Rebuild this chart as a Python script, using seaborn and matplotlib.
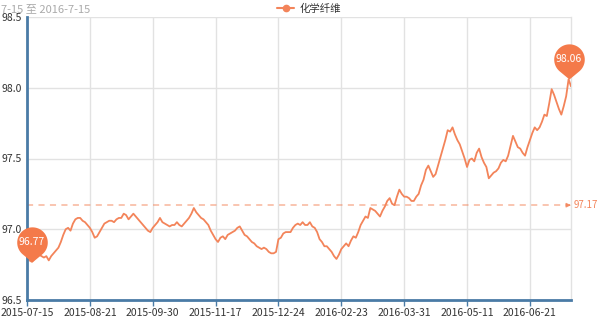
import numpy as np
import pandas as pd
import matplotlib
matplotlib.use("Agg")
import matplotlib.pyplot as plt
import seaborn as sns
from matplotlib.path import Path
from matplotlib.lines import Line2D

# ---------------- data ----------------
series_name = "化学纤维"
date_range_text = "7-15 至 2016-7-15"   # visible part of the (cut-off) date-range caption
tick_dates = ["2015-07-15", "2015-08-21", "2015-09-30", "2015-11-17", "2015-12-24",
              "2016-02-23", "2016-03-31", "2016-05-11", "2016-06-21"]
tick_step = 26  # trading days between labelled dates
values = [
    96.80, 96.78, 96.77, 96.79, 96.81, 96.82, 96.81, 96.80, 96.81, 96.78,
    96.81, 96.83, 96.85, 96.87, 96.91, 96.96, 97.00, 97.01, 96.99, 97.04,
    97.07, 97.08, 97.08, 97.06, 97.05, 97.03, 97.01, 96.98, 96.94, 96.95,
    96.98, 97.01, 97.04, 97.05, 97.06, 97.06, 97.05, 97.07, 97.08, 97.08,
    97.11, 97.10, 97.07, 97.09, 97.11, 97.09, 97.07, 97.05, 97.03, 97.01,
    96.99, 96.98, 97.01, 97.03, 97.05, 97.08, 97.05, 97.04, 97.03, 97.02,
    97.03, 97.03, 97.05, 97.03, 97.02, 97.04, 97.06, 97.08, 97.11, 97.15,
    97.12, 97.10, 97.08, 97.07, 97.05, 97.03, 96.99, 96.96, 96.93, 96.91,
    96.94, 96.95, 96.93, 96.96, 96.97, 96.98, 96.99, 97.01, 97.02, 96.99,
    96.96, 96.95, 96.93, 96.91, 96.90, 96.88, 96.87, 96.86, 96.87, 96.86,
    96.84, 96.83, 96.83, 96.84, 96.93, 96.94, 96.97, 96.98, 96.98, 96.98,
    97.01, 97.03, 97.04, 97.03, 97.05, 97.03, 97.03, 97.05, 97.02, 97.01,
    96.98, 96.93, 96.91, 96.88, 96.88, 96.86, 96.84, 96.81, 96.79, 96.82,
    96.86, 96.88, 96.90, 96.88, 96.92, 96.95, 96.94, 96.98, 97.03, 97.06,
    97.09, 97.08, 97.15, 97.14, 97.13, 97.11, 97.09, 97.13, 97.16, 97.20,
    97.22, 97.18, 97.17, 97.23, 97.28, 97.25, 97.23, 97.23, 97.22, 97.20,
    97.20, 97.23, 97.25, 97.31, 97.35, 97.42, 97.45, 97.41, 97.37, 97.39,
    97.45, 97.51, 97.57, 97.63, 97.70, 97.69, 97.72, 97.67, 97.63, 97.60,
    97.55, 97.50, 97.44, 97.49, 97.50, 97.48, 97.54, 97.57, 97.51, 97.47,
    97.44, 97.36, 97.38, 97.40, 97.41, 97.43, 97.47, 97.49, 97.48, 97.52,
    97.59, 97.66, 97.62, 97.58, 97.57, 97.54, 97.52, 97.58, 97.63, 97.68,
    97.72, 97.70, 97.72, 97.76, 97.81, 97.80, 97.89, 97.99, 97.95, 97.90,
    97.85, 97.81, 97.87, 97.94, 98.06, 98.01,
]
avg_value = 97.17
y_ticks = [96.5, 97.0, 97.5, 98.0, 98.5]

# ---------------- style ----------------
sns.set_theme(style="white")
plt.rcParams["font.family"] = ["Noto Sans CJK SC", "DejaVu Sans"]

line_color = "#f3845a"
pin_color = "#f47a4a"
axis_color = "#4a7ba6"
grid_color = "#e2e2e2"
text_color = "#333333"

df = pd.DataFrame({"idx": np.arange(len(values)), "value": values})

fig = plt.figure(figsize=(6, 3.2), dpi=100)
ax = fig.add_axes([27 / 600, 20 / 320, (571 - 27) / 600, (300 - 17) / 320])

sns.lineplot(data=df, x="idx", y="value", ax=ax, color=line_color,
             linewidth=1.3, legend=False, zorder=3)

n = len(values)
ax.set_xlim(0, n - 1)
ax.set_ylim(y_ticks[0], y_ticks[-1])
ax.set_yticks(y_ticks)
ax.set_yticklabels([f"{t:.1f}" for t in y_ticks])
ax.set_xticks([i * tick_step for i in range(len(tick_dates))])
ax.set_xticklabels(tick_dates)
ax.set_xlabel("")
ax.set_ylabel("")

ax.grid(True, color=grid_color, linewidth=1)
ax.set_axisbelow(True)
ax.spines["top"].set_visible(False)
ax.spines["right"].set_visible(True)
ax.spines["right"].set_color(grid_color)
ax.spines["right"].set_linewidth(1)
for s in ["left", "bottom"]:
    ax.spines[s].set_color(axis_color)
    ax.spines[s].set_linewidth(2)
    ax.spines[s].set_zorder(4)

ax.tick_params(axis="x", direction="out", length=4, width=1, color=axis_color,
               labelsize=7.5, labelcolor=text_color, pad=2, bottom=True)
ax.tick_params(axis="y", length=0, labelsize=7.5, labelcolor=text_color, pad=4, left=True)

# average mark line
ax.plot([0, n - 2.2], [avg_value, avg_value], linestyle=(0, (4, 3.5)),
        color=line_color, alpha=0.6, linewidth=1.1, zorder=2)
ax.annotate("", xy=(n - 1, avg_value), xytext=(n - 3, avg_value),
            arrowprops=dict(arrowstyle="-|>", color=line_color, lw=1,
                            mutation_scale=6, alpha=0.8),
            annotation_clip=False, zorder=2)
ax.annotate(f"{avg_value:.2f}", xy=(n - 1, avg_value), xytext=(2, 0),
            textcoords="offset points", ha="left", va="center",
            color=line_color, fontsize=7, annotation_clip=False)

# pin markers for max and min
r, cy = 1.0, 1.3
phi = np.arccos(r / cy)
theta = np.linspace(-np.pi / 2 + phi, 3 * np.pi / 2 - phi, 80)
verts = [(0.0, 0.0)] + [(r * np.cos(t), cy + r * np.sin(t)) for t in theta] + [(0.0, 0.0)]
codes = [Path.MOVETO] + [Path.LINETO] * (len(verts) - 2) + [Path.CLOSEPOLY]
pin = Path(verts, codes)
radius_pt = 11.0
ms = radius_pt * 2 * (cy + r)

i_max = int(np.argmax(values))
i_min = int(np.argmin(values))
for i in (i_max, i_min):
    ax.plot([i], [values[i]], marker=pin, markersize=ms, color=pin_color,
            markeredgewidth=0, linestyle="none", clip_on=False, zorder=6)
    ax.annotate(f"{values[i]:.2f}", xy=(i, values[i]), xytext=(0, cy * radius_pt),
                textcoords="offset points", ha="center", va="center",
                color="white", fontsize=7.5, annotation_clip=False, zorder=7)

# legend
handle = Line2D([], [], color=line_color, marker="o", markersize=4.5, linewidth=1.5)
fig.legend(handles=[handle], labels=[series_name], loc="center",
           bbox_to_anchor=(0.515, 1 - 9 / 320), frameon=False, fontsize=7.5,
           handlelength=1.6, handletextpad=0.5, labelcolor=text_color)

# date-range caption at the top left
fig.text(1 / 600, 1 - 9 / 320, date_range_text, ha="left", va="center",
         fontsize=8, color="#aaaaaa")

fig.savefig("out.png", dpi=100)
